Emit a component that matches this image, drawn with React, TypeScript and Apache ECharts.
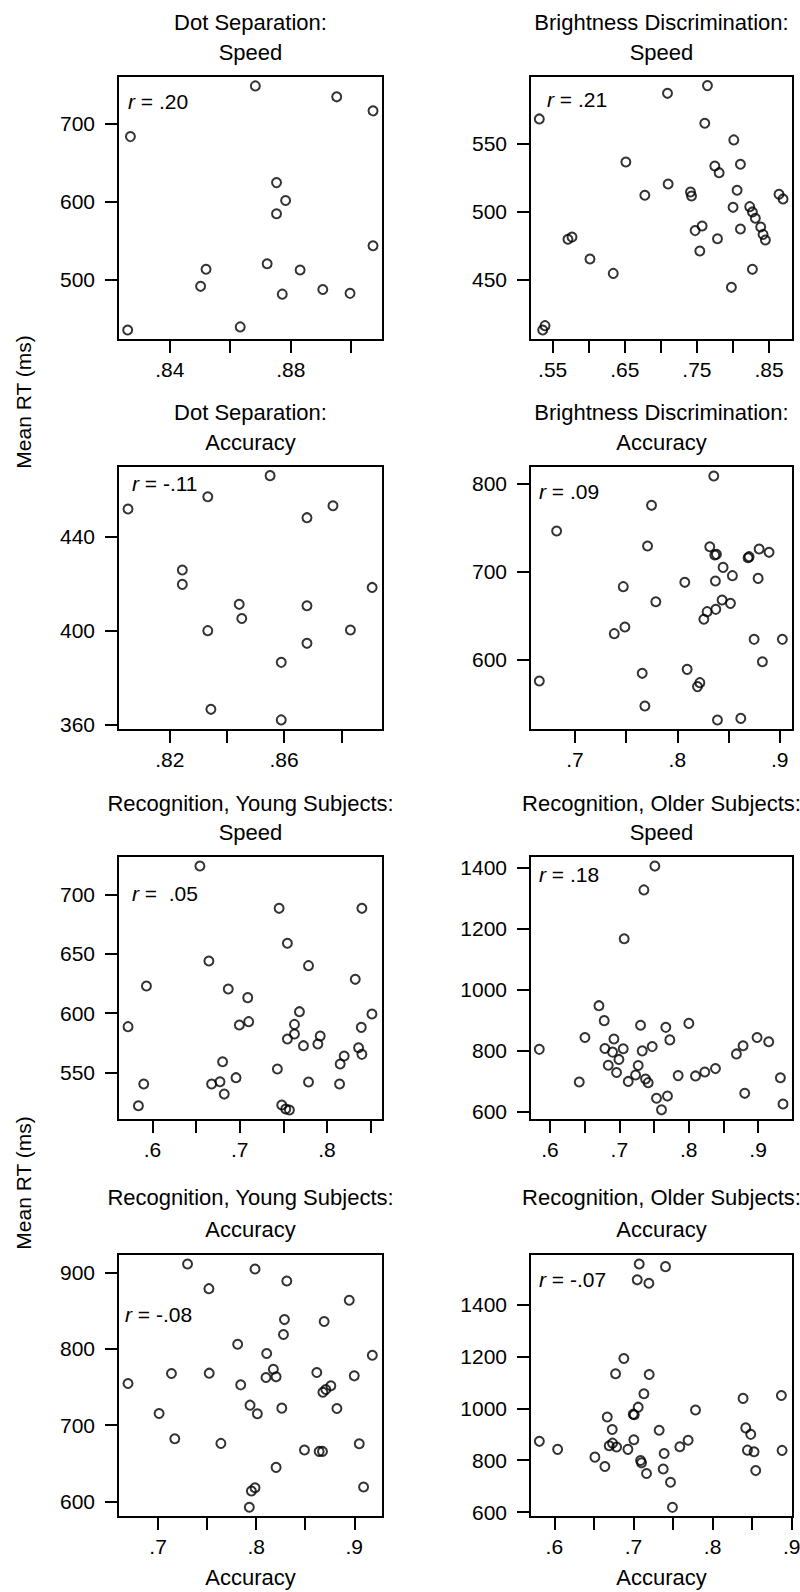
import React, { useEffect, useRef } from "react";
import * as echarts from "echarts";

const FONT = '"Liberation Sans", Arial, Helvetica, sans-serif';

// ---- Data: [accuracy, mean RT] pairs per panel ----
const dotSepSpeed: number[][] = [
  [0.827, 683], [0.8261, 435], [0.8683, 748], [0.8952, 734], [0.9072, 716],
  [0.8753, 624], [0.8783, 601], [0.8753, 584], [0.9072, 543], [0.8722, 520],
  [0.852, 513], [0.8502, 491], [0.8831, 512], [0.8772, 481], [0.8906, 487],
  [0.8996, 482], [0.8633, 439],
];
const brightSpeed: number[][] = [
  [0.5315, 568.5], [0.5362, 412.6], [0.5394, 415.8], [0.7092, 587.4], [0.7646, 593.1],
  [0.7609, 565.3], [0.8011, 553], [0.6515, 536.7], [0.7748, 533.7], [0.7808, 528.8],
  [0.8103, 535], [0.7101, 520.4], [0.6778, 512.1], [0.7411, 514.5], [0.7425, 511.6],
  [0.8057, 515.8], [0.8638, 512.8], [0.8694, 509.4], [0.8001, 503.2], [0.8232, 503.7],
  [0.8269, 499.8], [0.831, 495.1], [0.8384, 488.7], [0.8417, 483.2], [0.8449, 479.1],
  [0.7572, 489.4], [0.7475, 486], [0.8103, 487.2], [0.7785, 480], [0.754, 470.9],
  [0.5712, 479.6], [0.5768, 481.2], [0.6017, 465], [0.634, 454.4], [0.8269, 457.4],
  [0.7978, 444.1],
];
const dotSepAccuracy: number[][] = [
  [0.8054, 451.8], [0.8333, 457], [0.8551, 466], [0.868, 448.1], [0.8771, 453.2],
  [0.8244, 425.8], [0.8244, 419.7], [0.8908, 418.4], [0.8443, 411.2], [0.868, 410.6],
  [0.8452, 405.2], [0.8333, 400], [0.8832, 400.3], [0.868, 394.6], [0.859, 386.5],
  [0.8344, 366.5], [0.859, 362],
];
const brightAccuracy: number[][] = [
  [0.8356, 808.3], [0.7748, 775], [0.6821, 745.8], [0.7709, 728.8], [0.8317, 728],
  [0.8366, 718.6], [0.8382, 719.3], [0.8691, 715.5], [0.8701, 716.7], [0.8799, 725.4],
  [0.8896, 721.6], [0.8447, 704.5], [0.8538, 695.1], [0.8789, 692], [0.8372, 689],
  [0.8073, 687.5], [0.7472, 682.6], [0.8437, 667.4], [0.779, 665.5], [0.8519, 663.6],
  [0.8291, 654.2], [0.8376, 656.8], [0.8259, 645.5], [0.7488, 636.7], [0.7384, 629.2],
  [0.875, 622.7], [0.9026, 622.7], [0.8831, 597.3], [0.8096, 588.6], [0.7657, 584.1],
  [0.6652, 575.4], [0.822, 573.5], [0.8197, 569], [0.7683, 547], [0.8392, 531],
  [0.862, 532.9],
];
const youngSpeed: number[][] = [
  [0.6544, 723.8], [0.7452, 688.2], [0.8401, 688.2], [0.7547, 658.8], [0.6647, 643.9],
  [0.7789, 640], [0.8325, 628.5], [0.5931, 622.9], [0.6869, 620.4], [0.7092, 613.1],
  [0.7685, 601.3], [0.8516, 599.3], [0.572, 588.7], [0.6996, 590.1], [0.7103, 592.9],
  [0.7628, 590.6], [0.7628, 582.5], [0.7547, 578.3], [0.7731, 572.7], [0.7896, 574.1],
  [0.7923, 580.8], [0.8394, 588.1], [0.8363, 571], [0.8401, 565.4], [0.8198, 564],
  [0.8152, 557.3], [0.6804, 559.2], [0.7432, 553.1], [0.6958, 545.8], [0.6774, 542.4],
  [0.6678, 540.5], [0.6823, 532], [0.59, 540.5], [0.7789, 542.1], [0.8145, 540.5],
  [0.5839, 522.2], [0.7482, 522.8], [0.7528, 519.4], [0.757, 518.6],
];
const olderSpeed: number[][] = [
  [0.7512, 1404], [0.7354, 1326], [0.707, 1166], [0.6706, 947], [0.6782, 898],
  [0.7306, 883], [0.767, 876], [0.8002, 889], [0.6504, 843], [0.6922, 838],
  [0.7728, 835], [0.8986, 843], [0.9154, 829], [0.8784, 816], [0.8688, 789],
  [0.5846, 804], [0.6792, 807], [0.7056, 806], [0.7474, 813], [0.6902, 795],
  [0.733, 799], [0.6994, 771], [0.684, 752], [0.7272, 751], [0.696, 728],
  [0.8386, 741], [0.8232, 730], [0.8098, 717], [0.7848, 718], [0.7234, 720],
  [0.7378, 707], [0.7416, 695], [0.7128, 699], [0.6422, 697], [0.9322, 711],
  [0.7536, 644], [0.7694, 651], [0.8808, 660], [0.936, 625], [0.7608, 606],
];
const youngAccuracy: number[][] = [
  [0.73, 910.9], [0.7988, 904.4], [0.8312, 888.7], [0.7518, 878.6], [0.8949, 863.4],
  [0.8288, 838.1], [0.8693, 835.5], [0.8278, 818.5], [0.7811, 805.8], [0.8107, 793.6],
  [0.9184, 791.4], [0.6693, 754.4], [0.7136, 767.4], [0.7521, 767.9], [0.8175, 773.1],
  [0.81, 762.2], [0.8203, 763.1], [0.8618, 768.8], [0.9, 764.4], [0.7842, 752.6],
  [0.8761, 751.3], [0.871, 746.5], [0.868, 743], [0.701, 715.1], [0.7937, 726],
  [0.8012, 714.7], [0.8261, 722.1], [0.8823, 721.7], [0.717, 682], [0.764, 675.9],
  [0.8492, 667.2], [0.8642, 665.4], [0.8676, 665.4], [0.9051, 675.5], [0.8203, 644.5],
  [0.7988, 617.9], [0.7951, 613.5], [0.9095, 618.8], [0.793, 592.2],
];
const olderAccuracy: number[][] = [
  [0.7073, 1558], [0.7405, 1548], [0.7048, 1497], [0.7195, 1484], [0.6879, 1193],
  [0.6774, 1134], [0.7199, 1131], [0.7132, 1057], [0.8869, 1050], [0.8385, 1039],
  [0.706, 1005], [0.6997, 978], [0.701, 976], [0.7784, 994], [0.6669, 967],
  [0.6732, 919], [0.7325, 916], [0.8419, 925], [0.8482, 900], [0.5811, 873],
  [0.7005, 879], [0.7691, 877], [0.6694, 856], [0.6736, 866], [0.6787, 851],
  [0.7586, 852], [0.6042, 842], [0.693, 842], [0.844, 839], [0.8524, 833],
  [0.8878, 838], [0.7388, 826], [0.6513, 812], [0.709, 799], [0.7102, 790],
  [0.6639, 776], [0.7376, 766], [0.7165, 749], [0.8545, 760], [0.7468, 715],
  [0.7493, 618],
];

// ---- Texts ----
const titleLine1 = [
  "Dot Separation:", "Brightness Discrimination:",
  "Dot Separation:", "Brightness Discrimination:",
  "Recognition, Young Subjects:", "Recognition, Older Subjects:",
  "Recognition, Young Subjects:", "Recognition, Older Subjects:",
];
const titleLine2 = ["Speed", "Speed", "Accuracy", "Accuracy", "Speed", "Speed", "Accuracy", "Accuracy"];
const rValues = [".20", ".21", "-.11", ".09", " .05", ".18", "-.08", "-.07"];

// ---- Axis ticks ----
const xTicks = [
  [0.84, 0.86, 0.88, 0.9],
  [0.55, 0.6, 0.65, 0.7, 0.75, 0.8, 0.85],
  [0.82, 0.84, 0.86, 0.88],
  [0.7, 0.75, 0.8, 0.85, 0.9],
  [0.6, 0.65, 0.7, 0.75, 0.8, 0.85],
  [0.6, 0.65, 0.7, 0.75, 0.8, 0.85, 0.9],
  [0.7, 0.75, 0.8, 0.85, 0.9],
  [0.6, 0.65, 0.7, 0.75, 0.8, 0.85, 0.9],
];
const xTickLabels = [
  [0.84, 0.88],
  [0.55, 0.65, 0.75, 0.85],
  [0.82, 0.86],
  [0.7, 0.8, 0.9],
  [0.6, 0.7, 0.8],
  [0.6, 0.7, 0.8, 0.9],
  [0.7, 0.8, 0.9],
  [0.6, 0.7, 0.8, 0.9],
];
const yTicks = [
  [500, 600, 700],
  [450, 500, 550],
  [360, 400, 440],
  [600, 700, 800],
  [550, 600, 650, 700],
  [600, 800, 1000, 1200, 1400],
  [600, 700, 800, 900],
  [600, 800, 1000, 1200, 1400],
];
const xRanges = [
  [0.8229, 0.9105], [0.5186, 0.8832], [0.8019, 0.8946], [0.6561, 0.913],
  [0.5605, 0.8643], [0.5712, 0.9504], [0.6591, 0.9293], [0.5693, 0.9016],
];
const yRanges = [
  [422.2, 760.7], [405.2, 600.2], [357.7, 470.1], [519.7, 819.7],
  [510.2, 732.2], [572.7, 1437], [579.5, 924], [580.7, 1596.8],
];

const panelData = [
  dotSepSpeed, brightSpeed, dotSepAccuracy, brightAccuracy,
  youngSpeed, olderSpeed, youngAccuracy, olderAccuracy,
];

// ---- Layout ----
const colLeft = [118, 530];
const colWidth = [265, 263];
const rowTop = [76, 466, 856, 1254];
const rowHeight = [264, 264, 264, 263];
const titleY = [[22, 52], [412, 442], [803, 832], [1197, 1229]];
const rPos = [
  [128, 101], [547, 99], [132, 483], [539, 491],
  [132, 893], [539, 874], [125, 1314], [539, 1279],
];

const fmtTick = (v: number) => String(v).replace(/^0\./, ".").replace(/^-0\./, "-.");
const fmtY = (v: number) => String(v);

export default function App() {
  const ref = useRef<HTMLDivElement>(null);
  useEffect(() => {
    if (!ref.current) return;
    const chart = echarts.init(ref.current, undefined, { renderer: "svg" });

    const grids: any[] = [];
    const xAxes: any[] = [];
    const yAxes: any[] = [];
    const series: any[] = [];
    const graphics: any[] = [];

    for (let i = 0; i < 8; i++) {
      const col = i % 2;
      const row = Math.floor(i / 2);
      const left = colLeft[col];
      const top = rowTop[row];
      const w = colWidth[col];
      const h = rowHeight[row];
      grids.push({
        left, top, width: w, height: h,
        show: true, borderColor: "#000", borderWidth: 2, backgroundColor: "transparent",
        containLabel: false, outerBoundsMode: "none",
      });
      xAxes.push({
        type: "value", gridIndex: i, min: xRanges[i][0], max: xRanges[i][1],
        axisLine: { show: true, lineStyle: { color: "#000", width: 2 } },
        axisTick: {
          show: true, inside: false, length: 13, customValues: xTicks[i],
          lineStyle: { color: "#000", width: 2 },
        },
        axisLabel: {
          show: true, customValues: xTickLabels[i], margin: 19, formatter: fmtTick,
          color: "#000", fontSize: 21, fontFamily: FONT,
        },
        splitLine: { show: false },
      });
      yAxes.push({
        type: "value", gridIndex: i, min: yRanges[i][0], max: yRanges[i][1],
        axisLine: { show: true, lineStyle: { color: "#000", width: 2 } },
        axisTick: {
          show: true, inside: false, length: 13, customValues: yTicks[i],
          lineStyle: { color: "#000", width: 2 },
        },
        axisLabel: {
          show: true, customValues: yTicks[i], margin: 23, formatter: fmtY,
          color: "#000", fontSize: 21, fontFamily: FONT,
        },
        splitLine: { show: false },
      });
      series.push({
        type: "scatter", xAxisIndex: i, yAxisIndex: i, data: panelData[i],
        symbol: "circle", symbolSize: 9, silent: true,
        itemStyle: { color: "rgba(0,0,0,0)", borderColor: "#000", borderWidth: 2 },
        emphasis: { disabled: true },
      });
      const cx = left + w / 2;
      graphics.push({
        type: "text", x: cx, y: titleY[row][0],
        style: { text: titleLine1[i], align: "center", verticalAlign: "middle", fontSize: 22, fontFamily: FONT, fill: "#000" },
      });
      graphics.push({
        type: "text", x: cx, y: titleY[row][1],
        style: { text: titleLine2[i], align: "center", verticalAlign: "middle", fontSize: 22, fontFamily: FONT, fill: "#000" },
      });
      graphics.push({
        type: "text", x: rPos[i][0], y: rPos[i][1],
        style: {
          text: "{i|r} = " + rValues[i], align: "left", verticalAlign: "middle",
          fontSize: 21, fontFamily: FONT, fill: "#000",
          rich: { i: { fontStyle: "italic", fontSize: 21, fontFamily: FONT, fill: "#000" } },
        },
      });
    }

    // Shared axis titles
    graphics.push({
      type: "text", x: 23, y: 402, rotation: Math.PI / 2,
      style: { text: "Mean RT (ms)", align: "center", verticalAlign: "middle", fontSize: 21, fontFamily: FONT, fill: "#000" },
    });
    graphics.push({
      type: "text", x: 23, y: 1183, rotation: Math.PI / 2,
      style: { text: "Mean RT (ms)", align: "center", verticalAlign: "middle", fontSize: 21, fontFamily: FONT, fill: "#000" },
    });
    for (let c = 0; c < 2; c++) {
      graphics.push({
        type: "text", x: colLeft[c] + colWidth[c] / 2, y: 1577,
        style: { text: "Accuracy", align: "center", verticalAlign: "middle", fontSize: 22, fontFamily: FONT, fill: "#000" },
      });
    }

    chart.setOption({
      animation: false,
      backgroundColor: "#fff",
      textStyle: { fontFamily: FONT },
      grid: grids,
      xAxis: xAxes,
      yAxis: yAxes,
      series,
      graphic: graphics,
    });
    return () => chart.dispose();
  }, []);

  return (
    <div
      ref={ref}
      style={{ position: "absolute", left: 0, top: 0, width: 800, height: 1592, background: "#fff" }}
    />
  );
}
